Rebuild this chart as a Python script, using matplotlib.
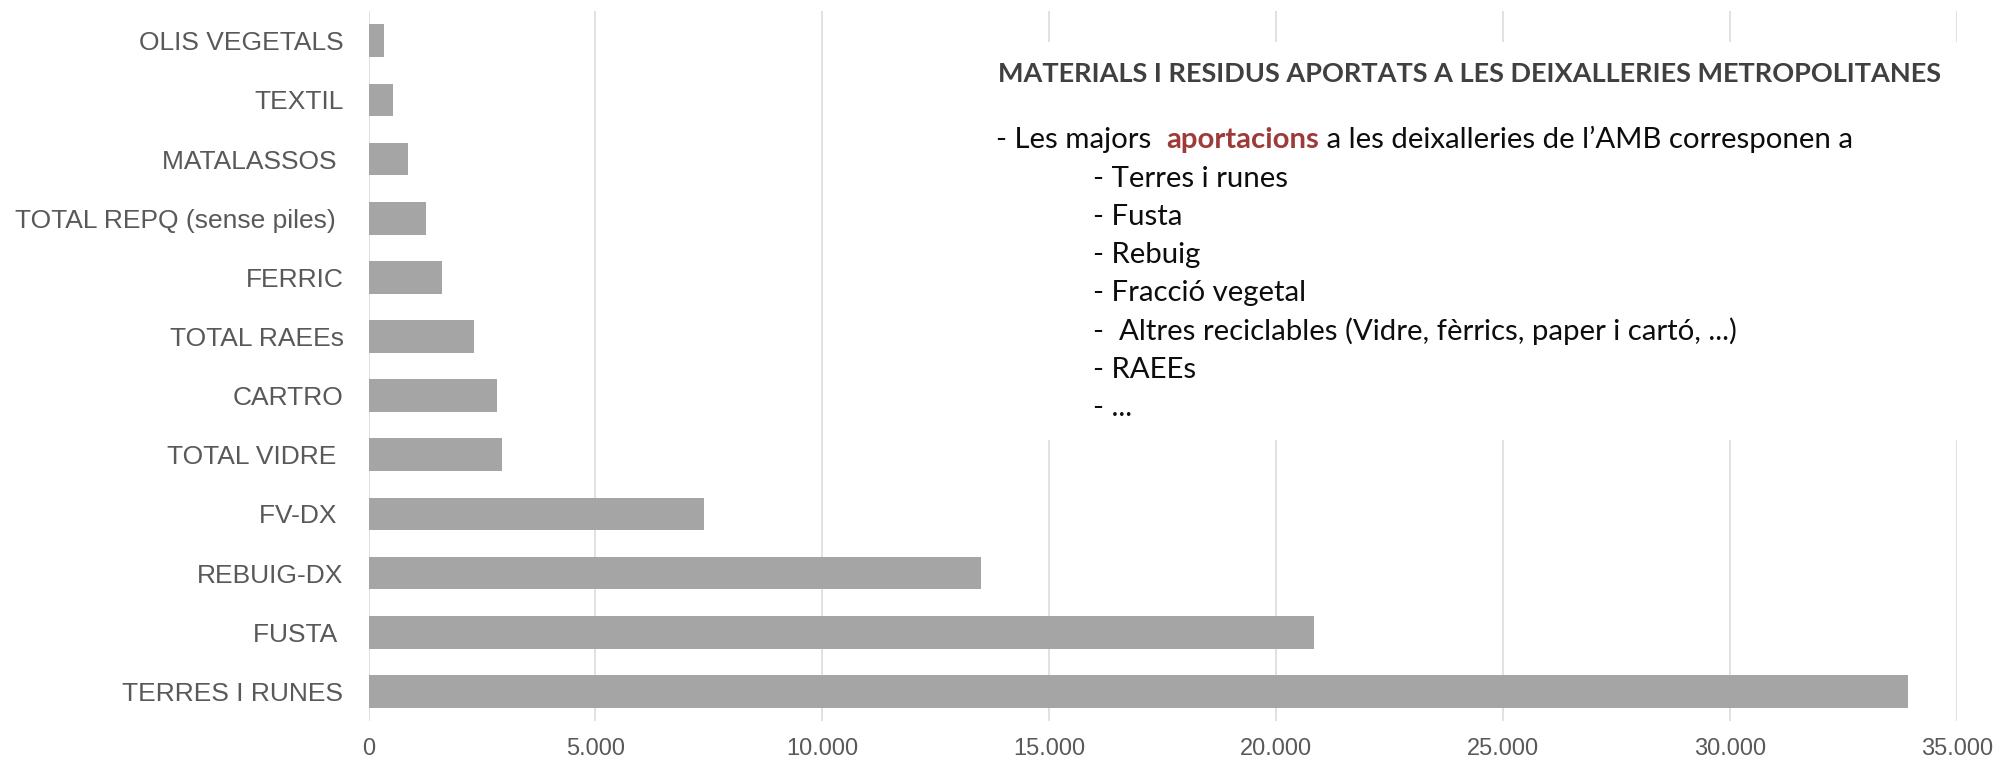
import matplotlib
matplotlib.use('Agg')
import matplotlib.pyplot as plt
from matplotlib.patches import Rectangle
from matplotlib.ticker import FuncFormatter

# ---------------- data ----------------
categories = ["TERRES I RUNES", "FUSTA ", "REBUIG-DX", "FV-DX ", "TOTAL VIDRE ",
              "CARTRO", "TOTAL RAEEs", "FERRIC", "TOTAL REPQ (sense piles) ",
              "MATALASSOS ", "TEXTIL", "OLIS VEGETALS"]
values = [33930, 20840, 13500, 7400, 2950, 2840, 2320, 1610, 1260, 880, 530, 340]
x_ticks = [0, 5000, 10000, 15000, 20000, 25000, 30000, 35000]

title_text = "MATERIALS I RESIDUS APORTATS A LES DEIXALLERIES METROPOLITANES"
intro_parts = ["- Les majors  ", "aportacions", " a les deixalleries de l\u2019AMB corresponen a"]
items = ["- Terres i runes", "- Fusta", "- Rebuig", "- Fracci\u00f3 vegetal",
         "-  Altres reciclables (Vidre, f\u00e8rrics, paper i cart\u00f3, ...)",
         "- RAEEs", "- ..."]

# ---------------- layout helpers ----------------
W, H = 1998, 761
fig = plt.figure(figsize=(W / 100, H / 100), dpi=100)
fig.patch.set_facecolor('white')

def fx(px):
    return px / W

def fy(py):
    return 1 - py / H

ax_left, ax_right, ax_top, ax_bottom = 368.5, 1957, 11.2, 720.9
ax = fig.add_axes([fx(ax_left), fy(ax_bottom), fx(ax_right) - fx(ax_left),
                   (ax_bottom - ax_top) / H])

ypos = list(range(len(categories)))
ax.barh(ypos, values, height=0.553, color='#A5A5A5', zorder=2)
ax.set_xlim(0, 35000)
ax.set_ylim(-0.5, len(categories) - 0.5)
ax.set_xticks(x_ticks)
ax.xaxis.set_major_formatter(FuncFormatter(lambda v, p: f"{int(v):,}".replace(",", ".")))
ax.set_yticks(ypos)
ax.set_yticklabels(categories)
ax.set_axisbelow(True)
ax.grid(axis='x', color='#D9D9D9', linewidth=1.1)
ax.grid(axis='y', visible=False)
for s in ax.spines.values():
    s.set_visible(False)
ax.tick_params(axis='y', length=0, pad=18, labelsize=19, labelcolor='#595959')
ax.tick_params(axis='x', length=0, pad=12.5, labelsize=17, labelcolor='#595959')
for lab in ax.get_xticklabels() + ax.get_yticklabels():
    lab.set_family('Liberation Sans')

# white box behind the text block
box = Rectangle((fx(985), fy(440)), fx(1998) - fx(985), (440 - 42) / H,
                transform=fig.transFigure, facecolor='white', edgecolor='none',
                zorder=1, clip_on=False)
ax.add_patch(box)

renderer = fig.canvas.get_renderer()

def width_at(s, family, weight, size=20):
    t = fig.text(0, 0, s, fontsize=size, family=family, weight=weight)
    w = t.get_window_extent(renderer).width
    t.remove()
    return w

FONT = 'Lato'
# title fitted to its width
tw = width_at(title_text, FONT, 'bold')
title_size = 20 * (1945 - 998) / tw
fig.text(fx(998), fy(81.7), title_text, fontsize=title_size, family=FONT,
         weight='bold', color='#404040', va='baseline', ha='left')

# body fitted to the width of the first line
w1 = (width_at(intro_parts[0], FONT, 'normal') + width_at(intro_parts[1], FONT, 'bold')
      + width_at(intro_parts[2], FONT, 'normal'))
body_size = 20 * (1854 - 996) / w1

x = 996
base = 148.3
styles = [('normal', '#0D0D0D'), ('bold', '#9E3A38'), ('normal', '#0D0D0D')]
for part, (wt, col) in zip(intro_parts, styles):
    t = fig.text(fx(x), fy(base), part, fontsize=body_size, family=FONT, weight=wt,
                 color=col, va='baseline', ha='left')
    x += width_at(part, FONT, wt, body_size)

step = 38.3
for i, it in enumerate(items):
    fig.text(fx(1093), fy(base + step * (i + 1)), it, fontsize=body_size, family=FONT,
             color='#0D0D0D', va='baseline', ha='left')

fig.savefig('out.png', dpi=100, facecolor='white')
